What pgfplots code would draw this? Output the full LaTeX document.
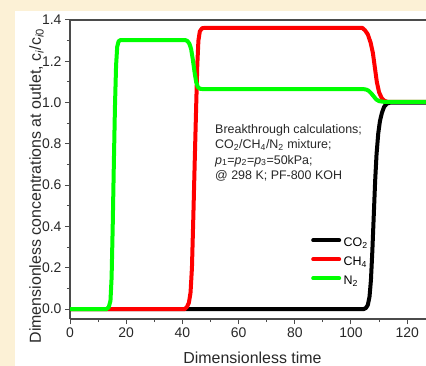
\documentclass[border=0pt]{standalone}
\usepackage{fontspec}
\setmainfont{Liberation Sans}
\usepackage{pgfplots}
\pgfplotsset{compat=1.18}
\definecolor{bgbeige}{RGB}{252,241,214}
\definecolor{axgray}{RGB}{75,75,75}
\definecolor{txtgray}{RGB}{40,40,40}
\definecolor{mygreen}{RGB}{0,255,0}
\definecolor{myred}{RGB}{255,0,0}
\begin{document}
\begin{tikzpicture}[x=1bp,y=1bp]
\fill[bgbeige] (0,0) rectangle (426,366);
\fill[white] (15,0) rectangle (426,355);
\begin{axis}[
  at={(70bp,47bp)}, anchor=south west,
  scale only axis, width=356bp, height=299bp,
  xmin=0, xmax=126.7, ymin=-0.048, ymax=1.4,
  axis x line=bottom, axis y line=left,
  axis line style={-, axgray, line width=1.2bp},
  xtick={0,20,40,60,80,100,120},
  ytick={0,0.2,0.4,0.6,0.8,1.0,1.2,1.4},
  minor x tick num=1, minor y tick num=1,
  tick align=outside, major tick length=5bp, minor tick length=3bp,
  every tick/.style={axgray, line width=1bp},
  /pgf/number format/assume math mode=true,
  ticklabel style={font=\fontsize{14}{16}\selectfont, text=txtgray},
  yticklabel style={/pgf/number format/fixed, /pgf/number format/fixed zerofill, /pgf/number format/precision=1},
  xlabel={Dimensionless time},
  ylabel={Dimensionless concentrations at outlet, c\textsubscript{\textit{i}}/c\textsubscript{\textit{i}0}},
  xlabel style={at={(axis description cs:0.5126,-0.1488)}, anchor=base, font=\fontsize{16}{18}\selectfont, text=txtgray},
  ylabel style={at={(axis description cs:-0.0815,0.445)}, anchor=base, font=\fontsize{16}{18}\selectfont, text=txtgray},
  every axis plot/.append style={no marks, line width=4bp, line join=round, line cap=round},
  legend cell align=left,
  legend image code/.code={\draw[#1, line cap=round] (0bp,4bp) -- (26bp,4bp);},
  legend style={draw=none, fill=none, at={(axis description cs:0.677,0.272)}, anchor=north west,
    inner sep=0pt, row sep=6bp, column sep=2.5bp, font=\fontsize{12.5}{14}\selectfont,
    nodes={inner sep=0pt, text height=9bp, text depth=4bp}},
]
\draw[axgray, line width=1.2bp] (rel axis cs:0,1) -- (rel axis cs:1,1);
\addplot[black] coordinates {
(0,0) (104.5,0) (105.3,0.005) (106,0.02) (106.6,0.06) (107.1,0.14) (107.6,0.28)
(108.1,0.45) (108.6,0.62) (109.1,0.75) (109.7,0.85) (110.3,0.91) (111,0.95)
(111.8,0.98) (112.8,0.995) (114,1.0) (126.7,1.0)};
\addlegendentry{CO\textsubscript{2}}
\addplot[myred] coordinates {
(0,0) (40.8,0) (41.6,0.01) (42.3,0.03) (42.9,0.08) (43.4,0.2) (43.9,0.45)
(44.4,0.72) (44.9,0.98) (45.3,1.18) (45.7,1.3) (46.2,1.345) (47,1.36) (48,1.362)
(104,1.362) (105,1.35) (106,1.33) (107,1.29) (107.8,1.24) (108.5,1.17)
(109.2,1.1) (110,1.05) (111,1.02) (112,1.008) (113,1.004) (126.7,1.004)};
\addlegendentry{CH\textsubscript{4}}
\addplot[mygreen] coordinates {
(0,0) (13,0) (13.8,0.01) (14.4,0.04) (14.8,0.15) (15.2,0.4) (15.6,0.7) (16.0,0.98)
(16.4,1.18) (16.8,1.27) (17.3,1.297) (18,1.303) (41,1.303) (41.8,1.298)
(42.5,1.285) (43.1,1.26) (43.7,1.21) (44.3,1.15) (44.9,1.1) (45.5,1.075)
(46.3,1.067) (47.5,1.065) (104.5,1.065) (105.5,1.063) (106.3,1.057) (107.2,1.045)
(108.1,1.03) (109,1.015) (110,1.007) (111.5,1.004) (126.7,1.004)};
\addlegendentry{N\textsubscript{2}}
\end{axis}
\begin{scope}[every node/.style={anchor=base west, inner sep=0pt, font=\fontsize{12.5}{14}\selectfont, text=txtgray}]
\node at (215,233) {Breakthrough calculations;};
\node at (215,217.5) {CO\textsubscript{2}/CH\textsubscript{4}/N\textsubscript{2} mixture;};
\node at (215,202) {\textit{p}\textsubscript{1}=\textit{p}\textsubscript{2}=\textit{p}\textsubscript{3}=50kPa;};
\node at (215,186.5) {@ 298 K; PF-800 KOH};
\end{scope}
\pgfresetboundingbox
\useasboundingbox (0,0) rectangle (426,366);
\end{tikzpicture}
\end{document}
